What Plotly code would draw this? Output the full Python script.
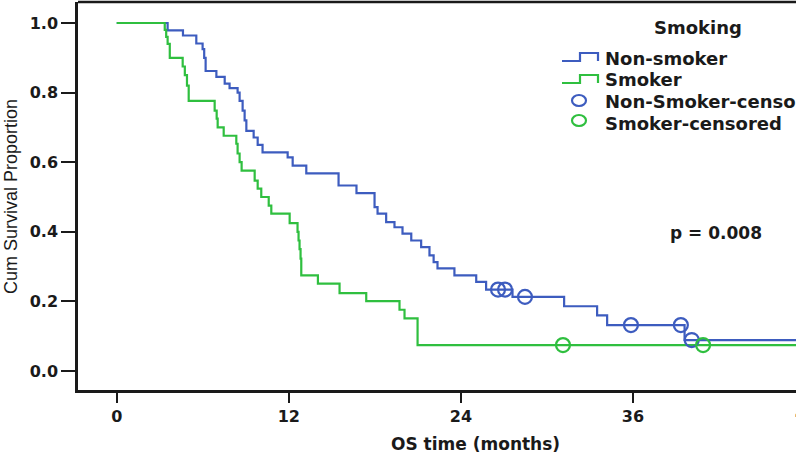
import plotly.graph_objects as go

# ---- data (months, cumulative survival) ----
nonsmoker_t = [0, 3.55, 4.62, 5.55, 5.99, 6.1, 6.2, 6.95, 7.53, 7.87, 8.43, 8.57, 8.78, 8.92, 9.04,
               9.55, 9.83, 10.17, 11.92, 12.27, 13.22, 15.47, 16.72, 17.98, 18.19, 18.79, 19.37,
               19.93, 20.54, 21.23, 21.81, 22.1, 22.37, 23.55, 25.07, 25.76, 27.6, 31.2, 33.5,
               34.2, 39.6, 49.0]
nonsmoker_s = [1.0, 0.979, 0.964, 0.941, 0.925, 0.90, 0.862, 0.845, 0.826, 0.813, 0.80, 0.776,
               0.748, 0.72, 0.69, 0.671, 0.65, 0.628, 0.614, 0.59, 0.568, 0.533, 0.511, 0.471,
               0.452, 0.428, 0.413, 0.395, 0.375, 0.356, 0.332, 0.313, 0.295, 0.275, 0.256, 0.234,
               0.213, 0.186, 0.16, 0.132, 0.089, 0.089]

smoker_t = [0, 3.35, 3.45, 3.55, 3.7, 4.6, 4.75, 4.9, 5.02, 6.83, 6.97, 7.04, 7.46, 8.34, 8.43,
            8.57, 8.71, 9.62, 9.83, 10.08, 10.6, 10.78, 12.06, 12.61, 12.68, 12.75, 12.82, 12.87,
            14.03, 15.54, 17.4, 19.72, 20.07, 20.98, 49.0]
smoker_s = [1.0, 0.98, 0.96, 0.94, 0.90, 0.875, 0.85, 0.82, 0.776, 0.748, 0.725, 0.70, 0.676,
            0.653, 0.625, 0.60, 0.576, 0.547, 0.524, 0.50, 0.475, 0.452, 0.425, 0.40, 0.375,
            0.35, 0.323, 0.275, 0.251, 0.224, 0.201, 0.176, 0.151, 0.0745, 0.0745]

nonsmoker_cens_t = [26.59, 27.08, 28.47, 35.86, 39.34, 40.1]
nonsmoker_cens_s = [0.234, 0.234, 0.213, 0.132, 0.132, 0.089]
smoker_cens_t = [31.12, 40.89]
smoker_cens_s = [0.0745, 0.0745]

x_ticks = [0, 12, 24, 36]
y_ticks = [0.0, 0.2, 0.4, 0.6, 0.8, 1.0]
legend_title = "Smoking"
legend_labels = ["Non-smoker", "Smoker", "Non-Smoker-censored", "Smoker-censored"]
p_text = "p = 0.008"

BLUE = "#3d5cbf"
GREEN = "#2fbf3f"
INK = "#1a1a1a"
W, H = 796, 454
L, R, T, B = 78, 0, 2, 64
PW, PH = W - L - R, H - T - B


def px(x):
    return (x - L) / PW


def py(y):
    return (H - B - y) / PH


fig = go.Figure()
fig.add_trace(go.Scatter(x=nonsmoker_t, y=nonsmoker_s, mode="lines", line_shape="hv",
                         line=dict(color=BLUE, width=2.2), showlegend=False, hoverinfo="skip"))
fig.add_trace(go.Scatter(x=smoker_t, y=smoker_s, mode="lines", line_shape="hv",
                         line=dict(color=GREEN, width=2.2), showlegend=False, hoverinfo="skip"))
fig.add_trace(go.Scatter(x=nonsmoker_cens_t, y=nonsmoker_cens_s, mode="markers",
                         marker=dict(symbol="circle-open", size=14, color=BLUE, line=dict(width=2.2)),
                         showlegend=False, hoverinfo="skip"))
fig.add_trace(go.Scatter(x=smoker_cens_t, y=smoker_cens_s, mode="markers",
                         marker=dict(symbol="circle-open", size=14, color=GREEN, line=dict(width=2.2)),
                         showlegend=False, hoverinfo="skip"))

tickfont = dict(family="DejaVu Sans", size=16, color=INK, weight="bold")
fig.update_xaxes(range=[-2.70, 47.37], tickvals=x_ticks, ticktext=[str(v) for v in x_ticks],
                 ticks="outside", ticklen=10, tickwidth=1.6, tickcolor=INK,
                 showline=True, linecolor=INK, linewidth=2.5, showgrid=False, zeroline=False,
                 tickfont=tickfont)
fig.update_yaxes(range=[-0.0546, 1.0603], tickvals=y_ticks, ticktext=[f"{v:.1f}" for v in y_ticks],
                 ticks="outside", ticklen=14, tickwidth=1.6, tickcolor=INK,
                 showline=True, linecolor=INK, linewidth=2.5, showgrid=False, zeroline=False,
                 tickfont=tickfont)

shapes = [
    # top frame line
    dict(type="line", xref="paper", yref="paper", x0=0, x1=1, y0=1, y1=1,
         line=dict(color=INK, width=2.5)),
    # legend step icons
    dict(type="path", xref="paper", yref="paper",
         path=f"M {px(562)} {py(61)} L {px(580)} {py(61)} L {px(580)} {py(53)} L {px(598)} {py(53)} L {px(598)} {py(61)}",
         line=dict(color=BLUE, width=2.2)),
    dict(type="path", xref="paper", yref="paper",
         path=f"M {px(562)} {py(83)} L {px(580)} {py(83)} L {px(580)} {py(75)} L {px(598)} {py(75)} L {px(598)} {py(83)}",
         line=dict(color=GREEN, width=2.2)),
    dict(type="circle", xref="paper", yref="paper", x0=px(572), x1=px(586), y0=py(106), y1=py(95),
         line=dict(color=BLUE, width=2.2)),
    dict(type="circle", xref="paper", yref="paper", x0=px(572), x1=px(586), y0=py(126), y1=py(115),
         line=dict(color=GREEN, width=2.2)),
]

bold = lambda s: dict(family="DejaVu Sans", size=s, color=INK, weight="bold")
annotations = [
    dict(text=legend_title, x=px(698), y=py(28), xref="paper", yref="paper",
         xanchor="center", yanchor="middle", showarrow=False, font=bold(18)),
    dict(text=p_text, x=px(716), y=py(233), xref="paper", yref="paper",
         xanchor="center", yanchor="middle", showarrow=False, font=bold(17)),
    dict(text="OS time (months)", x=px(475), y=py(444), xref="paper", yref="paper",
         xanchor="center", yanchor="middle", showarrow=False, font=bold(17)),
    dict(text="Cum Survival Proportion", x=px(11), y=py(197), xref="paper", yref="paper",
         xanchor="center", yanchor="middle", showarrow=False, textangle=-90,
         font=dict(family="Liberation Sans", size=18, color=INK)),
    dict(text="48", x=px(806), y=py(413), xref="paper", yref="paper",
         xanchor="center", yanchor="middle", showarrow=False, font=bold(16)),
]
for i, lab in enumerate(legend_labels):
    annotations.append(dict(text=lab, x=px(603), y=py([58, 80, 102, 123][i]), xref="paper",
                            yref="paper", xanchor="left", yanchor="middle", showarrow=False,
                            font=bold(18)))

fig.update_layout(width=W, height=H, margin=dict(l=L, r=R, t=T, b=B, pad=0),
                  plot_bgcolor="white", paper_bgcolor="white", shapes=shapes,
                  annotations=annotations, showlegend=False)

fig.write_html("out.html", config={"displayModeBar": False},
               post_script="document.body.style.margin='0';document.body.style.overflow='hidden';")
